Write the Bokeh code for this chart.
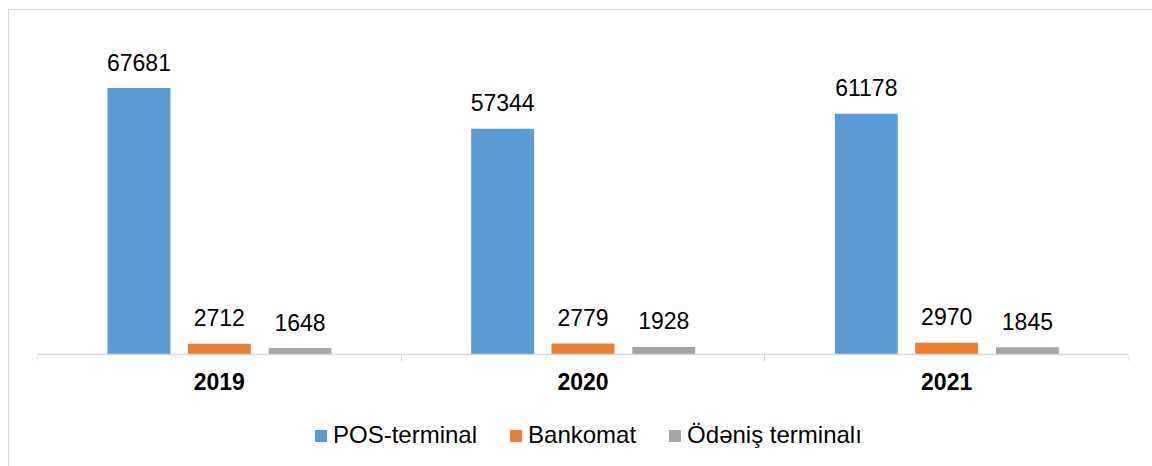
from bokeh.plotting import figure
from bokeh.models import ColumnDataSource, FixedTicker, Legend, LegendItem, Range1d
from bokeh.core.properties import value
from bokeh.embed import file_html
from bokeh.resources import INLINE

categories = ["2019", "2020", "2021"]
series_names = ["POS-terminal", "Bankomat", "Ödəniş terminalı"]
pos_terminal = [67681, 57344, 61178]
bankomat = [2712, 2779, 2970]
odenis_terminali = [1648, 1928, 1845]
colors = ["#5B9BD5", "#ED7D31", "#A5A5A5"]

FONT = "Liberation Sans"
offsets = [-0.221, 0.0, 0.222]
bar_w = 0.173

p = figure(width=1152, height=466, output_backend="svg", toolbar_location=None,
           x_range=Range1d(0, len(categories)), y_range=Range1d(-28448, 82296),
           y_axis_location=None, min_border_left=37, min_border_right=24,
           min_border_top=30, min_border_bottom=0)
p.outline_line_color = None
p.grid.visible = False
p.background_fill_color = "white"
p.border_fill_alpha = 0
border = "linear-gradient(#D9D9D9,#D9D9D9)"
p.styles = {"background": f"{border} 8px 9px / 100% 1px no-repeat, {border} 8px 9px / 1px 100% no-repeat, white"}

renderers = []
for k, (vals, col) in enumerate(zip([pos_terminal, bankomat, odenis_terminali], colors)):
    xs = [i + 0.5 + offsets[k] for i in range(len(categories))]
    src = ColumnDataSource(dict(x=xs, top=vals, label=[str(v) for v in vals]))
    r = p.vbar(x="x", top="top", bottom=0, width=bar_w, source=src, fill_color=col, line_color=None)
    renderers.append(r)
    p.text(x="x", y="top", text="label", source=src, text_align="center",
           text_baseline="alphabetic", y_offset=-26, text_font=value(FONT),
           text_font_size="23px", text_color="#000000")

ax = p.xaxis[0]
ax.fixed_location = 0
ax.ticker = FixedTicker(ticks=[i + 0.5 for i in range(len(categories))],
                        minor_ticks=list(range(len(categories) + 1)))
ax.major_label_overrides = {i + 0.5: c for i, c in enumerate(categories)}
ax.major_tick_line_color = None
ax.major_tick_out = 0
ax.major_tick_in = 0
ax.minor_tick_out = 7
ax.minor_tick_in = 0
ax.minor_tick_line_color = "#D9D9D9"
ax.axis_line_color = "#D9D9D9"
ax.axis_line_width = 1.5
ax.major_label_text_font = FONT
ax.major_label_text_font_size = "23px"
ax.major_label_text_font_style = "bold"
ax.major_label_text_color = "#000000"
ax.major_label_standoff = 11

legend = Legend(items=[LegendItem(label=n, renderers=[r]) for n, r in zip(series_names, renderers)],
                orientation="horizontal", location=(276, 17),
                glyph_width=15, glyph_height=15, label_standoff=5, spacing=31,
                label_text_font=FONT, label_text_font_size="24px", label_text_color="#000000",
                border_line_color=None, background_fill_alpha=0, padding=4, margin=0)
p.add_layout(legend, "center")

open("out.html", "w").write(file_html(p, INLINE))
